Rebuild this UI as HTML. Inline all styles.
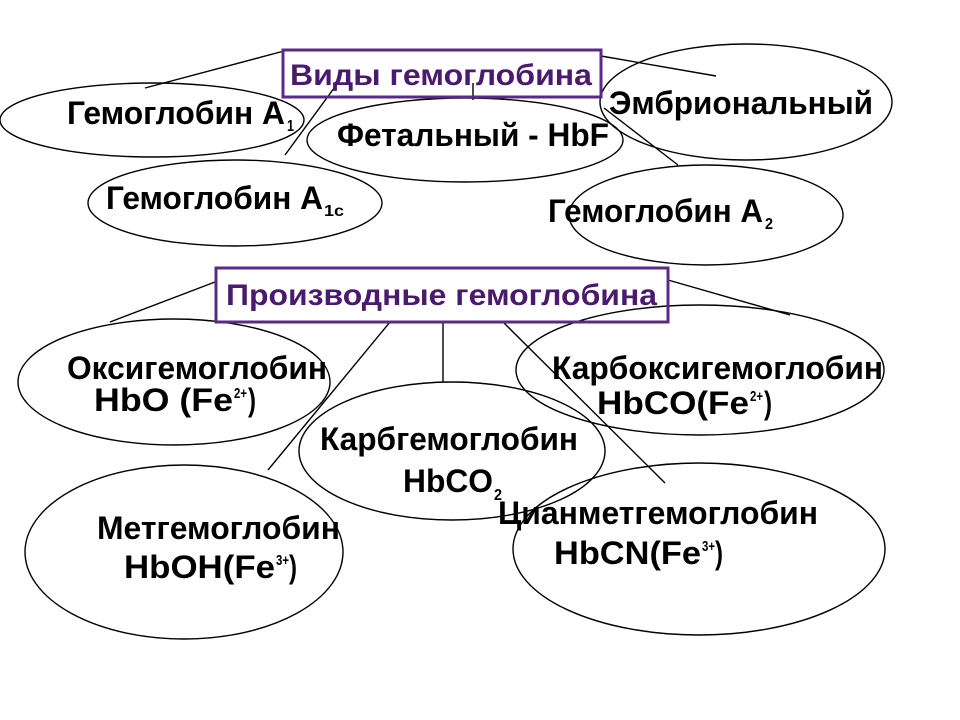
<!DOCTYPE html>
<html><head><meta charset="utf-8"><style>html,body{margin:0;padding:0;background:#fff}svg{display:block}</style></head><body>
<svg width="960" height="720" viewBox="0 0 960 720" xmlns="http://www.w3.org/2000/svg" font-family="Liberation Sans, sans-serif" font-weight="bold">
<g fill="none" stroke="#000" stroke-width="1.4">
<ellipse cx="152" cy="120" rx="152" ry="37"/>
<ellipse cx="465" cy="140" rx="158" ry="42"/>
<ellipse cx="746" cy="102" rx="146" ry="58"/>
<ellipse cx="235" cy="203" rx="147" ry="43"/>
<ellipse cx="706" cy="215" rx="137" ry="50"/>
<line x1="145" y1="88" x2="284" y2="51"/>
<line x1="601" y1="56" x2="716" y2="76"/>
<line x1="340" y1="80" x2="285" y2="155"/>
<line x1="473" y1="83" x2="473" y2="100"/>
<line x1="604" y1="108" x2="678" y2="165"/>
<ellipse cx="174" cy="382" rx="156" ry="63"/>
<ellipse cx="700" cy="370" rx="184" ry="65"/>
<ellipse cx="452" cy="451" rx="153" ry="69"/>
<ellipse cx="184" cy="552" rx="159" ry="87"/>
<ellipse cx="699" cy="549" rx="186" ry="86"/>
<line x1="215" y1="282" x2="110" y2="322"/>
<line x1="668" y1="280" x2="790" y2="315"/>
<line x1="390" y1="322" x2="268" y2="470"/>
<line x1="443" y1="322" x2="443" y2="382"/>
<line x1="503" y1="322" x2="665" y2="483"/>
</g>
<rect x="283" y="50" width="318" height="47" fill="none" stroke="#5b2a86" stroke-width="3"/>
<rect x="216" y="268" width="452" height="54" fill="none" stroke="#5b2a86" stroke-width="3"/>
<g fill="#4a1a6e" font-size="30">
<text x="290" y="85" textLength="302" lengthAdjust="spacingAndGlyphs">Виды гемоглобина</text>
<text x="226" y="305" textLength="431" lengthAdjust="spacingAndGlyphs">Производные гемоглобина</text>
</g>
<g fill="#000" font-size="32">
<text x="67" y="124" textLength="218" lengthAdjust="spacingAndGlyphs">Гемоглобин А</text>
<text x="287" y="131" font-size="16" textLength="7" lengthAdjust="spacingAndGlyphs">1</text>
<text x="337" y="146" textLength="272" lengthAdjust="spacingAndGlyphs">Фетальный - HbF</text>
<text x="609" y="114" textLength="264" lengthAdjust="spacingAndGlyphs">Эмбриональный</text>
<text x="106" y="209" textLength="217" lengthAdjust="spacingAndGlyphs">Гемоглобин А</text>
<text x="324" y="216" font-size="16" textLength="20" lengthAdjust="spacingAndGlyphs">1с</text>
<text x="548" y="222" textLength="215" lengthAdjust="spacingAndGlyphs">Гемоглобин А</text>
<text x="765" y="229" font-size="16" textLength="8" lengthAdjust="spacingAndGlyphs">2</text>
<text x="67" y="379" textLength="260" lengthAdjust="spacingAndGlyphs">Оксигемоглобин</text>
<text x="94" y="411" textLength="139" lengthAdjust="spacingAndGlyphs">HbO (Fe</text>
<text x="234" y="398" font-size="15" textLength="13" lengthAdjust="spacingAndGlyphs">2+</text>
<text x="248" y="411" textLength="8" lengthAdjust="spacingAndGlyphs">)</text>
<text x="552" y="379" textLength="331" lengthAdjust="spacingAndGlyphs">Карбоксигемоглобин</text>
<text x="597" y="414" textLength="152" lengthAdjust="spacingAndGlyphs">HbCO(Fe</text>
<text x="750" y="401" font-size="15" textLength="13" lengthAdjust="spacingAndGlyphs">2+</text>
<text x="764" y="414" textLength="8" lengthAdjust="spacingAndGlyphs">)</text>
<text x="320" y="450" textLength="258" lengthAdjust="spacingAndGlyphs">Карбгемоглобин</text>
<text x="403" y="492" textLength="90" lengthAdjust="spacingAndGlyphs">HbCO</text>
<text x="494" y="500" font-size="16" textLength="8" lengthAdjust="spacingAndGlyphs">2</text>
<text x="498" y="524" textLength="320" lengthAdjust="spacingAndGlyphs">Цианметгемоглобин</text>
<text x="554" y="564" textLength="147" lengthAdjust="spacingAndGlyphs">HbCN(Fe</text>
<text x="702" y="551" font-size="15" textLength="13" lengthAdjust="spacingAndGlyphs">3+</text>
<text x="715" y="564" textLength="8" lengthAdjust="spacingAndGlyphs">)</text>
<text x="97" y="539" textLength="243" lengthAdjust="spacingAndGlyphs">Метгемоглобин</text>
<text x="124" y="578" textLength="151" lengthAdjust="spacingAndGlyphs">HbOH(Fe</text>
<text x="276" y="565" font-size="15" textLength="13" lengthAdjust="spacingAndGlyphs">3+</text>
<text x="289" y="578" textLength="8" lengthAdjust="spacingAndGlyphs">)</text>
</g>
</svg>
</body></html>
